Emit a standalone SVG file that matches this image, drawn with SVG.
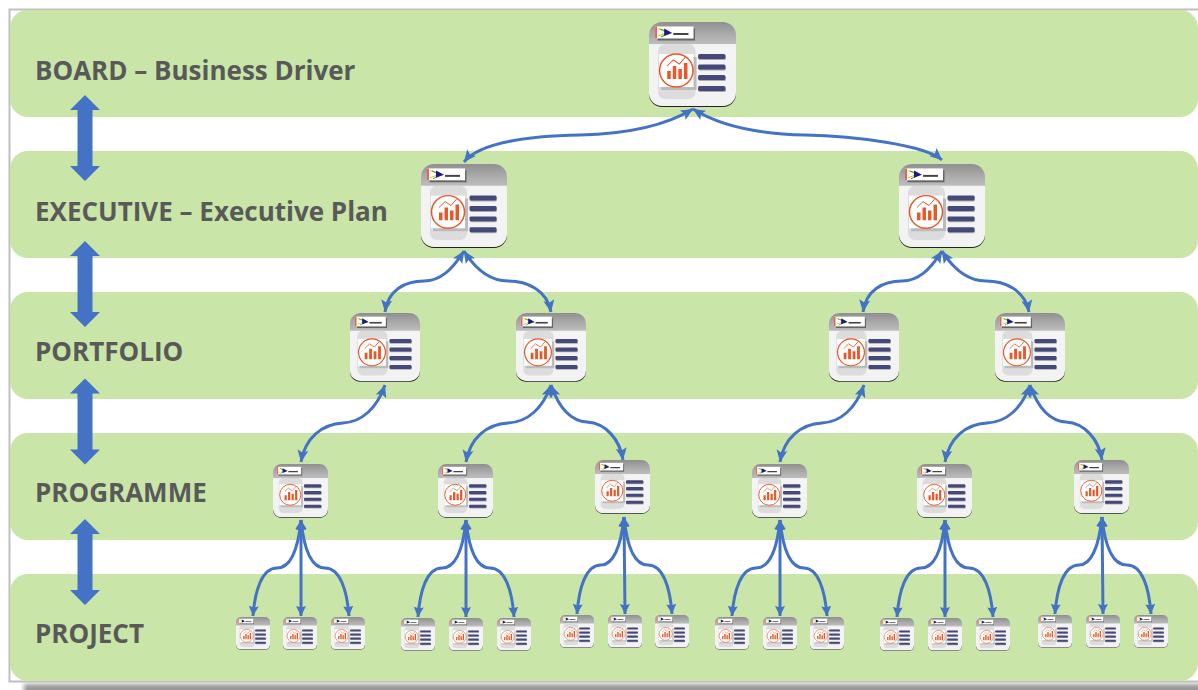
<svg xmlns="http://www.w3.org/2000/svg" xmlns:xlink="http://www.w3.org/1999/xlink" width="1198" height="690" viewBox="0 0 1198 690">
<style>
.band{fill:#c9e5a8}
.lbl{font-family:"Open Sans","Liberation Sans",sans-serif;font-weight:700;font-size:26px;fill:#595959}
.dbl{fill:#4472c4}
.c{fill:none;stroke:#4472c4;stroke-width:3;marker-start:url(#ah);marker-end:url(#ah)}
.c2{fill:none;stroke:#4472c4;stroke-width:3;marker-start:url(#ahs);marker-end:url(#ahs)}
</style>
<defs>
<linearGradient id="hd" x1="0" y1="0" x2="0" y2="1"><stop offset="0" stop-color="#8f8f8f"/><stop offset="0.5" stop-color="#a8a8a8"/><stop offset="1" stop-color="#bdbdbd"/></linearGradient>
<linearGradient id="bd" x1="0" y1="0" x2="0" y2="1"><stop offset="0" stop-color="#e4e4e4"/><stop offset="0.3" stop-color="#f4f4f4"/><stop offset="1" stop-color="#f2f2f2"/></linearGradient>
<filter id="bl" x="-5%" y="-100%" width="110%" height="300%"><feGaussianBlur stdDeviation="2"/></filter>
<marker id="ah" markerUnits="userSpaceOnUse" markerWidth="14" markerHeight="14" viewBox="0 0 14 14" refX="12" refY="7" orient="auto-start-reverse"><path d="M0 1.5L12 7L0 12.5L2.5 7Z" fill="#4472c4"/></marker>
<marker id="ahs" markerUnits="userSpaceOnUse" markerWidth="12" markerHeight="12" viewBox="0 0 12 12" refX="10" refY="6" orient="auto-start-reverse"><path d="M0 1L10 6L0 11L1.5 6Z" fill="#4472c4"/></marker>
<symbol id="icon" viewBox="0 0 86 85" preserveAspectRatio="none">
<rect x="0" y="2" width="86" height="83" rx="13" fill="#222"/>
<rect x="0" y="0" width="86" height="84" rx="13" fill="url(#bd)"/>
<path d="M0 22V13A13 13 0 0 1 13 0H73A13 13 0 0 1 86 13V22Z" fill="url(#hd)"/>
<rect x="8.500" y="6.500" width="37" height="12" fill="#666"/>
<rect x="6" y="4.500" width="38" height="12" fill="#fff"/>
<path d="M6 4.500H8V16.500H6Z" fill="#e8625a"/>
<path d="M9 6.500L18 10.500L9 14" fill="none" stroke="#e8c020" stroke-width="1"/>
<path d="M11 7L20 10.500L12 15" fill="none" stroke="#3aa03a" stroke-width="1"/>
<path d="M15 6.500L23 11L15 14Z" fill="#1a1a80"/>
<rect x="24" y="11" width="15" height="2" fill="#444"/>
<rect x="9" y="22" width="37" height="55" rx="7" fill="#dcdcdc"/>
<rect x="12" y="35" width="35" height="33" fill="#bbb"/>
<rect x="10" y="32" width="34" height="33" fill="#fff"/>
<circle cx="27" cy="48.500" r="16.500" fill="#fff" stroke="#e8592a" stroke-width="1.500"/>
<path d="M18 49h3.500v8H18zM23.500 44h3.500v13H23.500zM29 47h3.500v10H29zM34.500 41h3.500v16H34.500z" fill="#e8592a"/>
<path d="M18 44L24 38L30 42L36 35" fill="none" stroke="#e8592a" stroke-width="1"/>
<rect x="49" y="33" width="27" height="5" rx="1.500" fill="#aaa"/><rect x="48.500" y="32" width="27" height="5" rx="1.500" fill="#44497a"/>
<rect x="49" y="43.500" width="27" height="5" rx="1.500" fill="#aaa"/><rect x="48.500" y="42.500" width="27" height="5" rx="1.500" fill="#44497a"/>
<rect x="49" y="54" width="27" height="5" rx="1.500" fill="#aaa"/><rect x="48.500" y="53" width="27" height="5" rx="1.500" fill="#44497a"/>
<rect x="49" y="65" width="27" height="5" rx="1.500" fill="#aaa"/><rect x="48.500" y="64" width="27" height="5" rx="1.500" fill="#44497a"/>
</symbol>
<path id="da" d="M0 0L15 15H7.500V71H15L0 86L-15 71H-7.500V15H-15Z"/>
</defs>
<rect width="1198" height="690" fill="#fff"/>
<rect x="24" y="684" width="1190" height="12" fill="#999" filter="url(#bl)"/>
<path d="M1198 9.500H9.500V681.500H1198" fill="#fff" stroke="#bfbfbf" stroke-width="2"/>
<g id="bands">
<rect class="band" x="10" y="10" width="1188" height="107" rx="18"/>
<rect class="band" x="10" y="151" width="1188" height="107" rx="18"/>
<rect class="band" x="10" y="292" width="1188" height="107" rx="18"/>
<rect class="band" x="10" y="433" width="1188" height="107" rx="18"/>
<rect class="band" x="10" y="574" width="1188" height="107" rx="18"/>
</g>
<g id="labels">
<text class="lbl" x="35" y="80">BOARD – Business Driver</text>
<text class="lbl" x="35" y="221">EXECUTIVE – Executive Plan</text>
<text class="lbl" x="35" y="361">PORTFOLIO</text>
<text class="lbl" x="35" y="502">PROGRAMME</text>
<text class="lbl" x="35" y="643">PROJECT</text>
</g>
<g id="level-arrows" class="dbl">
<use xlink:href="#da" href="#da" x="85" y="95"/>
<use xlink:href="#da" href="#da" x="85" y="241"/>
<use xlink:href="#da" href="#da" x="85" y="378.500"/>
<use xlink:href="#da" href="#da" x="85" y="519"/>
</g>
<g id="connectors">
<path class="c" d="M693 109C665 126 625 134 580 135C530 136 480 142 464 162"/>
<path class="c" d="M693 109C720 126 760 134 805 135C855 136 925 145 942 160"/>
<path class="c" d="M464 251C452 270 440 281 424 281C405 281 388 290 385 312"/>
<path class="c" d="M464 251C476 270 490 281 508 281C527 281 547 290 551 312"/>
<path class="c" d="M942 251C930 270 918 281 902 281C883 281 866 290 863 312"/>
<path class="c" d="M942 251C954 270 968 281 986 281C1005 281 1025 290 1029 312"/>
<path class="c" d="M385 385C377 408 362 422 343 423C322 424 305 438 301 462"/>
<path class="c" d="M551 385C543 408 528 422 508 423C487 424 470 438 466 462"/>
<path class="c" d="M551 385C559 408 570 421 587 422C606 423 620 440 623 460"/>
<path class="c" d="M864 385C856 408 841 422 822 423C801 424 784 438 780 462"/>
<path class="c" d="M1030 385C1022 408 1007 422 987 423C966 424 949 438 945 462"/>
<path class="c" d="M1030 385C1038 408 1049 421 1066 422C1085 423 1099 440 1102 460"/>
<path class="c2" d="M301 520c-3 30-11 48-24 48c-15 0-22 22-24 48"/>
<path class="c2" d="M301 520v96"/>
<path class="c2" d="M301 520c3 30 11 48 24 48c15 0 22 22 24 48"/>
<path class="c2" d="M466 520c-3 30-11 48-24 48c-15 0-22 22-24 49"/>
<path class="c2" d="M466 520v97"/>
<path class="c2" d="M466 520c3 30 11 48 24 48c15 0 22 22 24 49"/>
<path class="c2" d="M624 517c-3 30-11 48-23 48c-15 0-22 22-24 49"/>
<path class="c2" d="M624 517l1 97"/>
<path class="c2" d="M624 517c3 30 11 48 24 48c15 0 22 22 24 49"/>
<path class="c2" d="M780 520c-3 30-11 48-24 48c-15 0-22 22-24 48"/>
<path class="c2" d="M780 520v96"/>
<path class="c2" d="M780 520c3 30 11 48 24 48c14 0 21 22 23 48"/>
<path class="c2" d="M945 520c-3 30-11 48-24 48c-15 0-22 22-24 49"/>
<path class="c2" d="M945 520v97"/>
<path class="c2" d="M945 520c3 30 11 48 24 48c15 0 22 22 24 49"/>
<path class="c2" d="M1102 517c-3 30-11 48-23 48c-15 0-22 22-24 49"/>
<path class="c2" d="M1102 517l1 97"/>
<path class="c2" d="M1102 517c3 30 11 48 25 48c15 0 22 22 24 49"/>
</g>
<g id="board-1"><use href="#icon" x="649" y="22" width="87" height="85"/></g>
<g id="exec-1"><use href="#icon" x="421" y="164" width="86" height="84"/></g>
<g id="exec-2"><use href="#icon" x="899" y="164" width="86" height="84"/></g>
<g id="portfolio-1"><use href="#icon" x="350" y="313" width="70" height="69"/></g>
<g id="portfolio-2"><use href="#icon" x="516" y="313" width="70" height="69"/></g>
<g id="portfolio-3"><use href="#icon" x="829" y="313" width="70" height="69"/></g>
<g id="portfolio-4"><use href="#icon" x="995" y="313" width="70" height="69"/></g>
<g id="programme-1"><use href="#icon" x="273" y="464" width="55" height="54"/></g>
<g id="programme-2"><use href="#icon" x="438" y="464" width="55" height="54"/></g>
<g id="programme-3"><use href="#icon" x="595" y="460" width="55" height="54"/></g>
<g id="programme-4"><use href="#icon" x="752" y="464" width="55" height="54"/></g>
<g id="programme-5"><use href="#icon" x="917" y="464" width="55" height="54"/></g>
<g id="programme-6"><use href="#icon" x="1074" y="460" width="55" height="54"/></g>
<g id="project-1"><use href="#icon" x="236" y="617" width="34" height="33"/></g>
<g id="project-2"><use href="#icon" x="283" y="617" width="34" height="33"/></g>
<g id="project-3"><use href="#icon" x="331" y="617" width="34" height="33"/></g>
<g id="project-4"><use href="#icon" x="401" y="618" width="34" height="33"/></g>
<g id="project-5"><use href="#icon" x="449" y="618" width="34" height="33"/></g>
<g id="project-6"><use href="#icon" x="497" y="618" width="34" height="33"/></g>
<g id="project-7"><use href="#icon" x="560" y="615" width="34" height="33"/></g>
<g id="project-8"><use href="#icon" x="608" y="615" width="34" height="33"/></g>
<g id="project-9"><use href="#icon" x="655" y="615" width="34" height="33"/></g>
<g id="project-10"><use href="#icon" x="715" y="617" width="34" height="33"/></g>
<g id="project-11"><use href="#icon" x="763" y="617" width="34" height="33"/></g>
<g id="project-12"><use href="#icon" x="810" y="617" width="34" height="33"/></g>
<g id="project-13"><use href="#icon" x="880" y="618" width="34" height="33"/></g>
<g id="project-14"><use href="#icon" x="928" y="618" width="34" height="33"/></g>
<g id="project-15"><use href="#icon" x="976" y="618" width="34" height="33"/></g>
<g id="project-16"><use href="#icon" x="1038" y="615" width="34" height="33"/></g>
<g id="project-17"><use href="#icon" x="1086" y="615" width="34" height="33"/></g>
<g id="project-18"><use href="#icon" x="1134" y="615" width="34" height="33"/></g>
</svg>
